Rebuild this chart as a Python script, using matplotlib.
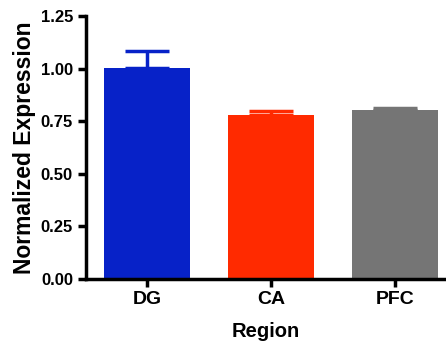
import matplotlib.pyplot as plt

regions = ["DG", "CA", "PFC"]
means = [1.005, 0.779, 0.803]
errors = [0.077, 0.020, 0.011]
colors = ["#0722C8", "#FF2A00", "#757575"]

plt.rcParams["font.family"] = ["Liberation Sans", "DejaVu Sans"]
plt.rcParams["font.weight"] = "bold"

fig = plt.figure(figsize=(4.46, 3.41), dpi=100)
ax = fig.add_axes([0.193, 0.182, 0.807, 0.771])

x = range(len(regions))
ax.bar(x, means, width=0.69, color=colors, zorder=2)
for xi, m, e, c in zip(x, means, errors, colors):
    ax.errorbar(xi, m, yerr=[[0], [e]], color=c, capsize=15.5, capthick=2.5,
                elinewidth=2.5, zorder=1)

ax.set_xlim(-0.49, 2.41)
ax.set_ylim(0, 1.25)
ax.set_yticks([0, 0.25, 0.5, 0.75, 1.0, 1.25])
ax.set_yticklabels(["0.00", "0.25", "0.50", "0.75", "1.00", "1.25"])
ax.set_xticks(list(x))
ax.set_xticklabels(regions)

for s in ["top", "right"]:
    ax.spines[s].set_visible(False)
for s in ["left", "bottom"]:
    ax.spines[s].set_linewidth(2.5)
ax.tick_params(width=2.5, length=6, labelsize=12, direction="out")
ax.tick_params(axis="x", pad=3, labelsize=14)

ax.set_xlabel("Region", fontsize=14.5, fontweight="bold", labelpad=10)
ax.set_ylabel("Normalized Expression", fontsize=16.5, fontweight="bold", labelpad=3)

fig.savefig("out.png", dpi=100)
plt.close()
